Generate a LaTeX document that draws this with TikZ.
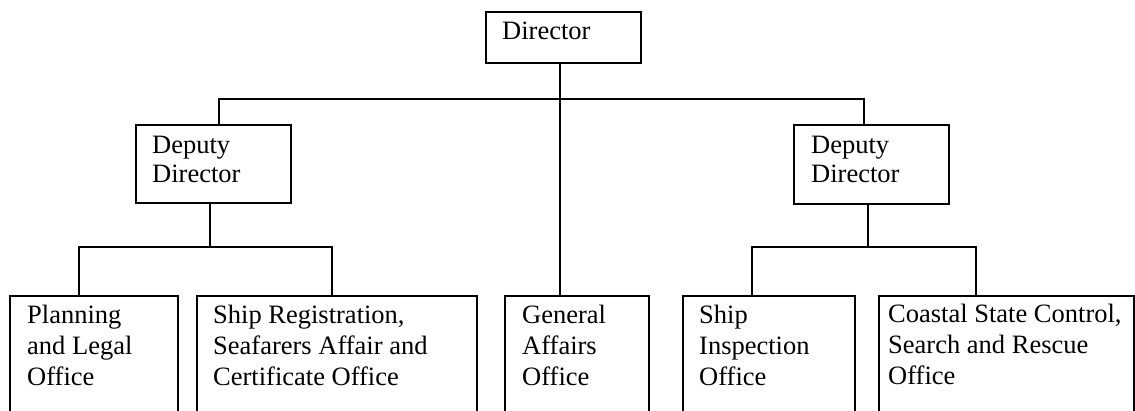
\documentclass[tikz,border=0pt]{standalone}
\usepackage{fontspec}
\setmainfont{Liberation Serif}
\usetikzlibrary{calc}

\tikzset{
  unitbox/.style={draw, line width=2pt, inner sep=0pt, anchor=north west},
  lbl/.style={anchor=north west, inner sep=0pt, align=left,
    font=\fontsize{26.5pt}{31.3pt}\selectfont},
  lbltight/.style={lbl, font=\fontsize{26.5pt}{29.7pt}\selectfont},
  link/.style={line width=2pt}
}
% first-line strut: label top sits 20pt above its first baseline
\newcommand{\firstline}{\rule{0pt}{20pt}}

\begin{document}
\begin{tikzpicture}[x=1pt, y=-1pt]
  \useasboundingbox (0,0) rectangle (1135,410);
  \clip (0,0) rectangle (1135,410);

  % boxes
  \node[unitbox, minimum width=155pt, minimum height=51pt] (dir) at (485,11) {};
  \node[unitbox, minimum width=155pt, minimum height=78pt] (dl) at (135,124) {};
  \node[unitbox, minimum width=155pt, minimum height=79pt] (dr) at (793,124) {};
  \node[unitbox, minimum width=168pt, minimum height=140pt] (pl) at (9,295) {};
  \node[unitbox, minimum width=280pt, minimum height=140pt] (sr) at (196,295) {};
  \node[unitbox, minimum width=144pt, minimum height=140pt] (ga) at (504,295) {};
  \node[unitbox, minimum width=172pt, minimum height=140pt] (si) at (682,295) {};
  \node[unitbox, minimum width=255pt, minimum height=140pt] (cs) at (878,295) {};

  % labels
  \node[lbl] (dirt) at (502,19) {\firstline Director};
  \node[lbltight] (dlt) at (152,133) {\firstline Deputy\\Director};
  \node[lbltight] (drt) at (811,133) {\firstline Deputy\\Director};
  \node[lbl] (plt) at (27,303) {\firstline Planning\\and Legal\\Office};
  \node[lbl] (srt) at (213,303) {\firstline Ship Registration,\\Seafarers Affair and\\Certificate Office};
  \node[lbl] (gat) at (522,303) {\firstline General\\Affairs\\Office};
  \node[lbl] (sit) at (699,303) {\firstline Ship\\Inspection\\Office};
  \node[lbl] (cst) at (888,302) {\firstline Coastal State Control,\\Search and Rescue\\Office};

  % junction points of the tree lines
  \coordinate (jtop) at (560,99);
  \coordinate (jtl) at (219,99);
  \coordinate (jtr) at (864,99);
  \coordinate (jl) at (210,247);
  \coordinate (jl1) at (79,247);
  \coordinate (jl2) at (332,247);
  \coordinate (jr) at (868,247);
  \coordinate (jr1) at (752,247);
  \coordinate (jr2) at (976,247);

  % connectors
  \draw[link] (dir.south -| jtop) -- (ga.north -| jtop);
  \draw[link] (dl.north -| jtl) |- (jtr) -- (dr.north -| jtr);
  \draw[link] (dl.south -| jl) -- (jl);
  \draw[link] (pl.north -| jl1) |- (jl2) -- (sr.north -| jl2);
  \draw[link] (dr.south -| jr) -- (jr);
  \draw[link] (si.north -| jr1) |- (jr2) -- (cs.north -| jr2);
\end{tikzpicture}
\end{document}
